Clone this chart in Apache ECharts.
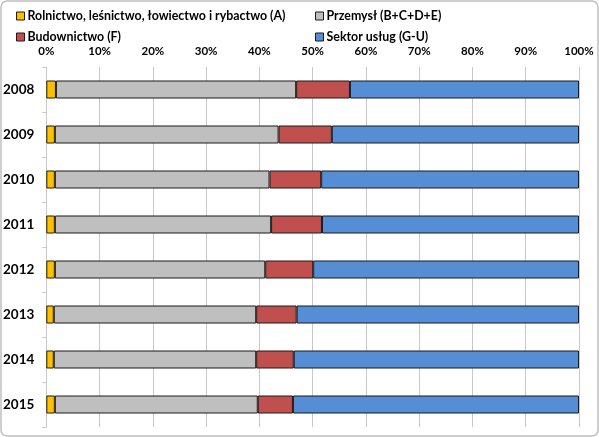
<!DOCTYPE html>
<html>
<head>
<meta charset="utf-8">
<script src="https://cdn.jsdelivr.net/npm/echarts@6/dist/echarts.min.js"></script>
<style>html,body{margin:0;padding:0;background:#fff;}#c{width:599px;height:437px;}</style>
</head>
<body>
<div id="c"></div>
<script>
var years = ['2008','2009','2010','2011','2012','2013','2014','2015'];
var seriesNames = ['Rolnictwo, leśnictwo, łowiectwo i rybactwo (A)','Przemysł (B+C+D+E)','Budownictwo (F)','Sektor usług (G-U)'];
var agri = [1.8, 1.6, 1.6, 1.6, 1.6, 1.4, 1.4, 1.6];
var industry = [45.1, 42.0, 40.3, 40.6, 39.5, 38.0, 38.0, 38.1];
var construction = [10.1, 10.0, 9.7, 9.55, 9.0, 7.6, 7.05, 6.6];
var services = [43.0, 46.4, 48.4, 48.25, 49.9, 53.0, 53.55, 53.7];
var colors = ['#FFC000','#BFBFBF','#C0504D','#558ED5'];
var values = [agri, industry, construction, services];

var font = 'Lato';
var chart = echarts.init(document.getElementById('c'));
var series = seriesNames.map(function(n, i){
  return {
    name: n, type: 'bar', stack: 'total', data: values[i], barWidth: '40%',
    itemStyle: {color: colors[i], borderColor: '#1a1a1a', borderWidth: 1},
    emphasis: {disabled: true}
  };
});
var legendCommon = {
  orient: 'vertical', itemWidth: 8, itemHeight: 8, itemGap: 7, icon: 'rect', padding: 0,
  textStyle: {fontFamily: font, fontWeight: 'bold', fontSize: 12.4, lineHeight: 14, color: '#000', padding: [0, 0, 0, -2]},
  itemStyle: {borderColor: '#1a1a1a', borderWidth: 1},
  selectedMode: false
};
chart.setOption({
  animation: false,
  backgroundColor: '#fff',
  color: colors,
  graphic: [{type:'rect', shape:{x:1, y:1, width:597, height:435, r:6}, style:{fill:'none', stroke:'#BFBFBF', lineWidth:1.5}, z:-1}],
  legend: [
    Object.assign({left: 16, top: 9, data: [seriesNames[0], seriesNames[2]]}, legendCommon),
    Object.assign({left: 315, top: 9, data: [seriesNames[1], seriesNames[3]]}, legendCommon)
  ],
  grid: {left: 43, right: 20, top: 67, bottom: 10, containLabel: false},
  xAxis: {
    type: 'value', position: 'top', min: 0, max: 100, interval: 10,
    axisLine: {show: false}, axisTick: {show: false},
    axisLabel: {formatter: '{value}%', fontFamily: font, fontWeight: 'bold', fontSize: 11.5, color: '#000', margin: 10},
    splitLine: {show: true, lineStyle: {color: '#C8C8C8', width: 1}}
  },
  yAxis: {
    type: 'category', data: years, inverse: true,
    axisLine: {show: true, lineStyle: {color: '#C8C8C8'}},
    axisTick: {show: true, length: 4, lineStyle: {color: '#C8C8C8'}},
    axisLabel: {fontFamily: font, fontWeight: 'bold', fontSize: 13.5, color: '#000', margin: 12}
  },
  series: series
});
</script>
</body>
</html>
